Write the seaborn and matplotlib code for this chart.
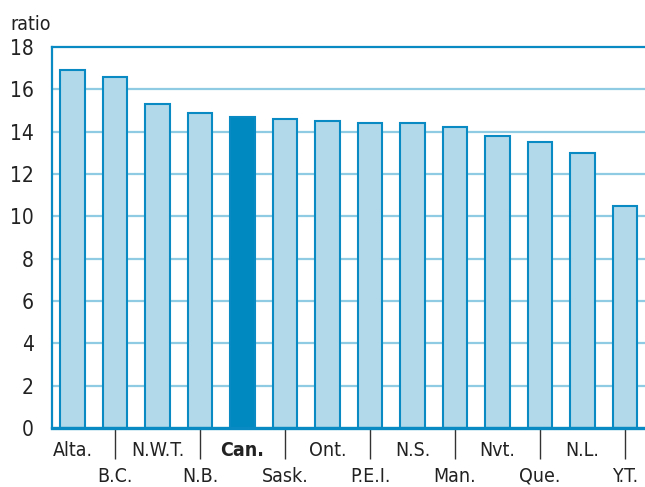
import matplotlib
matplotlib.use("Agg")
import matplotlib.pyplot as plt
import seaborn as sns
import pandas as pd

# data
regions = ["Alta.", "B.C.", "N.W.T.", "N.B.", "Can.", "Sask.", "Ont.",
           "P.E.I.", "N.S.", "Man.", "Nvt.", "Que.", "N.L.", "Y.T."]
ratios = [16.9, 16.6, 15.3, 14.9, 14.7, 14.6, 14.5,
          14.4, 14.4, 14.2, 13.8, 13.5, 13.0, 10.5]
y_ticks = [0, 2, 4, 6, 8, 10, 12, 14, 16, 18]

LIGHT = "#b2d9ea"
DARK = "#0088c0"
EDGE = "#0a8ac2"
GRID = "#8fcbe3"

sns.set_theme(style="white")
plt.rcParams["font.family"] = ["DejaVu Sans"]
plt.rcParams["font.stretch"] = "condensed"

df = pd.DataFrame({"region": regions, "ratio": ratios})
palette = {r: (DARK if r == "Can." else LIGHT) for r in regions}

fig = plt.figure(figsize=(6.45, 4.87), dpi=100)
ax = fig.add_axes([52 / 645, 59 / 487, 1 - 52 / 645, 381 / 487])

for y in y_ticks[1:-1]:
    ax.axhline(y, color=GRID, lw=1.6, zorder=0)

sns.barplot(data=df, x="region", y="ratio", hue="region", palette=palette,
            legend=False, width=0.57, edgecolor=EDGE, linewidth=1.5,
            saturation=1, ax=ax, zorder=2)

ax.set_ylim(0, 18)
ax.set_xlim(-0.48, 13.47)
ax.set_yticks(y_ticks)
ax.set_yticklabels([str(v) for v in y_ticks], fontsize=15, color="#222222")
ax.tick_params(axis="y", length=0, pad=13)

# two-row category labels: even ones on top row, odd ones below a long tick
ax.set_xticks(range(1, 14, 2))
ax.set_xticklabels(regions[1::2], fontsize=14, color="#222222")
ax.set_xticks(range(0, 14, 2), minor=True)
ax.set_xticklabels(regions[0::2], minor=True, fontsize=14, color="#222222")
for lab in ax.get_xticklabels(minor=True):
    if lab.get_text() == "Can.":
        lab.set_fontweight("bold")
ax.tick_params(axis="x", which="major", length=22, width=1.0,
               color="#333333", pad=6, bottom=True)
ax.tick_params(axis="x", which="minor", length=0, pad=9, bottom=True)

ax.set_xlabel("")
ax.set_ylabel("")

for side in ["top", "left", "bottom"]:
    ax.spines[side].set_color(EDGE)
ax.spines["top"].set_linewidth(1.6)
ax.spines["left"].set_linewidth(1.6)
ax.spines["bottom"].set_linewidth(2.4)
ax.spines["right"].set_visible(False)

fig.text(10 / 645, 1 - 24 / 487, "ratio", fontsize=14, color="#222222",
         va="center", ha="left")

fig.savefig("out.png", dpi=100)
